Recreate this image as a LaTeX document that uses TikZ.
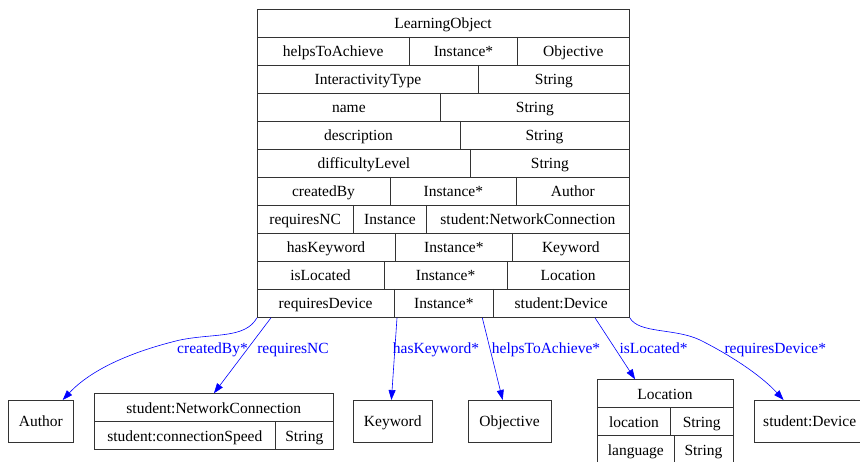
\documentclass[tikz,border=0pt]{standalone}
\usepackage{fontspec}
\setmainfont{Liberation Serif}
\usetikzlibrary{arrows.meta}
\begin{document}
\begin{tikzpicture}[x=1pt,y=-1pt,
  cellline/.style={draw=black!80, line width=0.8pt},
  box/.style={cellline, rectangle, inner sep=0pt, anchor=north west},
  celltext/.style={font=\fontsize{15.5}{18}\selectfont, inner sep=0pt, anchor=base},
  rel/.style={draw=blue, line width=0.6pt, -{Triangle[length=10pt,width=7pt]}},
  rellabel/.style={font=\fontsize{15.5}{18}\selectfont, text=blue, inner sep=0pt, anchor=base}]
\useasboundingbox (0,0) rectangle (860,462);
\clip (0,0) rectangle (860,462);

% one table cell: name, left x, right x, top y, text (set on its baseline)
\newcommand\umlcell[5]{\node[celltext] (#1) at ({(#2+#3)/2},{#4+20}) {#5};}

% ---------- LearningObject record ----------
\node[box, minimum width=372, minimum height=308] (lo) at (257,9) {};
\foreach \yy in {37,65,93,121,149,177,205,233,261,289}
  \draw[cellline] (257,\yy) -- (629,\yy);
\foreach \xx/\yy in {409.3/37,517.7/37,478.7/65,440.7/93,460/121,470.7/149,
                     390/177,516.7/177,353.3/205,426.7/205,395/233,512.7/233,
                     384/261,507.3/261,394.3/289,493.3/289}
  \draw[cellline] (\xx,\yy) -- (\xx,\yy+28);

\umlcell{lot}{257}{629}{9}{LearningObject}
\umlcell{ha1}{257}{409.3}{37}{helpsToAchieve}
\umlcell{ha2}{409.3}{517.7}{37}{Instance*}
\umlcell{ha3}{517.7}{629}{37}{Objective}
\umlcell{it1}{257}{478.7}{65}{InteractivityType}
\umlcell{it2}{478.7}{629}{65}{String}
\umlcell{nm1}{257}{440.7}{93}{name}
\umlcell{nm2}{440.7}{629}{93}{String}
\umlcell{ds1}{257}{460}{121}{description}
\umlcell{ds2}{460}{629}{121}{String}
\umlcell{dl1}{257}{470.7}{149}{difficultyLevel}
\umlcell{dl2}{470.7}{629}{149}{String}
\umlcell{cb1}{257}{390}{177}{createdBy}
\umlcell{cb2}{390}{516.7}{177}{Instance*}
\umlcell{cb3}{516.7}{629}{177}{Author}
\umlcell{rn1}{257}{353.3}{205}{requiresNC}
\umlcell{rn2}{353.3}{426.7}{205}{Instance}
\umlcell{rn3}{426.7}{629}{205}{student:NetworkConnection}
\umlcell{hk1}{257}{395}{233}{hasKeyword}
\umlcell{hk2}{395}{512.7}{233}{Instance*}
\umlcell{hk3}{512.7}{629}{233}{Keyword}
\umlcell{il1}{257}{384}{261}{isLocated}
\umlcell{il2}{384}{507.3}{261}{Instance*}
\umlcell{il3}{507.3}{629}{261}{Location}
\umlcell{rd1}{257}{394.3}{289}{requiresDevice}
\umlcell{rd2}{394.3}{493.3}{289}{Instance*}
\umlcell{rd3}{493.3}{629}{289}{student:Device}

% ---------- target classes ----------
\node[box, minimum width=65, minimum height=42] (author) at (8.3,400) {};
\umlcell{authort}{8.3}{73.3}{407}{Author}

\node[box, minimum width=239, minimum height=56] (nc) at (94.3,393.3) {};
\draw[cellline] (94.3,421.3) -- (333.3,421.3);
\draw[cellline] (275.3,421.3) -- (275.3,449.3);
\umlcell{nct}{94.3}{333.3}{393.3}{student:NetworkConnection}
\umlcell{nc1}{94.3}{275.3}{421.3}{student:connectionSpeed}
\umlcell{nc2}{275.3}{333.3}{421.3}{String}

\node[box, minimum width=79, minimum height=42] (kw) at (353.3,400) {};
\umlcell{kwt}{353.3}{432.3}{407}{Keyword}

\node[box, minimum width=82.4, minimum height=42] (obj) at (468.3,400) {};
\umlcell{objt}{468.3}{550.7}{407}{Objective}

\node[box, minimum width=135.4, minimum height=84] (loc) at (597.3,379.3) {};
\draw[cellline] (597.3,407.3) -- (732.7,407.3);
\draw[cellline] (597.3,435.3) -- (732.7,435.3);
\draw[cellline] (670.7,407.3) -- (670.7,435.3);
\draw[cellline] (674.3,435.3) -- (674.3,463.3);
\umlcell{loct}{597.3}{732.7}{379.3}{Location}
\umlcell{loc1}{597.3}{670.7}{407.3}{location}
\umlcell{loc2}{670.7}{732.7}{407.3}{String}
\umlcell{loc3}{597.3}{674.3}{435.3}{language}
\umlcell{loc4}{674.3}{732.7}{435.3}{String}

\node[box, minimum width=112, minimum height=42] (dev) at (753.7,400) {};
\umlcell{devt}{753.7}{865.7}{407}{student:Device}

% ---------- relations ----------
\draw[rel] (lo.south west) .. controls +(-12,21) and +(35,-7) .. (180,340)
  .. controls +(-50,12) and +(28,-30) .. ([xshift=21.5]author.north);
\draw[rel] ([xshift=14]lo.south west) -- ([xshift=-0.3]nc.north);
\draw[rel] ([xshift=140]lo.south west) -- ([xshift=-1.8]kw.north);
\draw[rel] ([xshift=225.3]lo.south west) -- ([xshift=-7.2]obj.north);
\draw[rel] ([xshift=338]lo.south west) -- ([xshift=-30.3]loc.north);
\draw[rel] (lo.south east) .. controls +(9,16) and +(-25,-12) .. (700,340)
  .. controls +(30,15) and +(-23,-25) .. ([xshift=-26.5]dev.north);

\node[rellabel] (l1) at (212.5,354) {createdBy*};
\node[rellabel] (l2) at (293,354) {requiresNC};
\node[rellabel] (l3) at (436,354) {hasKeyword*};
\node[rellabel] (l4) at (546,354) {helpsToAchieve*};
\node[rellabel] (l5) at (653.5,354) {isLocated*};
\node[rellabel] (l6) at (775.3,354) {requiresDevice*};
\end{tikzpicture}
\end{document}
